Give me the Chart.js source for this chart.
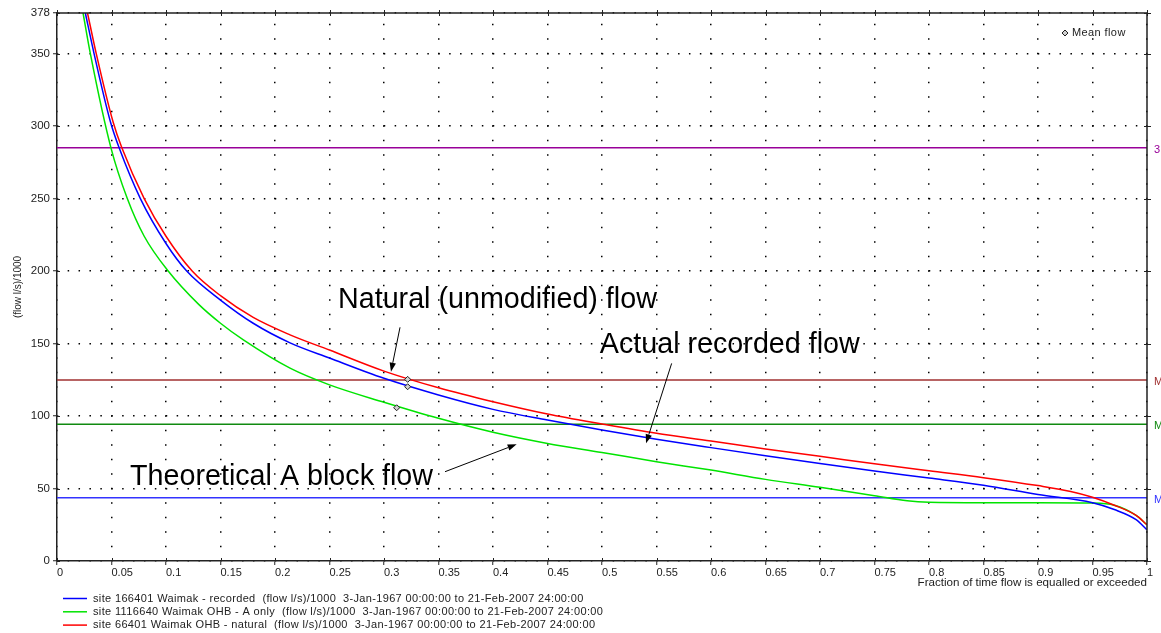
<!DOCTYPE html>
<html>
<head>
<meta charset="utf-8">
<script src="https://cdn.jsdelivr.net/npm/chart.js@4.4.0/dist/chart.umd.min.js"></script>
<style>
  html, body { margin: 0; padding: 0; background: #fff; }
</style>
</head>
<body>
<canvas id="myChart" width="1161" height="633"></canvas>
<script>
// flow duration curves: [fraction of time exceeded, (flow l/s)/1000]
var recorded = [
  [0.026, 378], [0.034, 350], [0.049, 303], [0.057, 285], [0.0765, 250], [0.10, 219],
  [0.119, 200], [0.15, 180], [0.18, 164], [0.2138, 150.5], [0.25, 140], [0.30, 126],
  [0.35, 114.5], [0.40, 104.6], [0.45, 97.2], [0.50, 90.3], [0.55, 84], [0.60, 78.2],
  [0.65, 72.6], [0.70, 67.2], [0.75, 62], [0.80, 57.2], [0.85, 52.2], [0.90, 45.8],
  [0.95, 40.2], [0.97, 35.5], [0.99, 28.5], [1.0, 21.5]
];
var aOnly = [
  [0.0239, 378], [0.0306, 350], [0.0495, 285], [0.0645, 250], [0.08, 224], [0.102, 200],
  [0.13, 177], [0.15, 164], [0.171, 152.5], [0.2138, 133], [0.25, 121.5], [0.30, 109.5],
  [0.35, 98.4], [0.40, 88.8], [0.45, 81.1], [0.50, 74.9], [0.55, 68.5], [0.60, 62.7],
  [0.65, 56.3], [0.70, 50.8], [0.75, 45], [0.78, 41.5], [0.80, 40.5], [0.85, 40.2],
  [0.90, 40.2], [0.95, 40], [0.97, 38.5], [0.99, 31.5], [1.0, 25]
];
var natural = [
  [0.028, 378], [0.036, 350], [0.0514, 303], [0.0595, 285], [0.080, 250], [0.10, 224],
  [0.124, 200], [0.15, 183], [0.18, 168], [0.2138, 156], [0.25, 145.5], [0.30, 131],
  [0.35, 119.5], [0.40, 109.9], [0.45, 101.4], [0.50, 94.5], [0.55, 88.1], [0.60, 82.8],
  [0.65, 77.2], [0.70, 72.2], [0.75, 67], [0.80, 62.2], [0.85, 57.5], [0.90, 52],
  [0.93, 48], [0.95, 44], [0.97, 38.5], [0.99, 31.5], [1.0, 25]
];
var meanFlow = [[0.3217, 120.2], [0.3116, 105.7], [0.3217, 125.3]];

// horizontal reference levels and their (clipped) right-hand labels
var refLevels = [285, 124.8, 94.3, 43.7];
var refLabels = ['3', 'M', 'M', 'M'];

var xTicks = [0, 0.05, 0.1, 0.15, 0.2, 0.25, 0.3, 0.35, 0.4, 0.45, 0.5,
              0.55, 0.6, 0.65, 0.7, 0.75, 0.8, 0.85, 0.9, 0.95, 1];
var yTicks = [0, 50, 100, 150, 200, 250, 300, 350, 378];

var seriesLabels = [
  'site 166401 Waimak - recorded  (flow l/s)/1000  3-Jan-1967 00:00:00 to 21-Feb-2007 24:00:00',
  'site 1116640 Waimak OHB - A only  (flow l/s)/1000  3-Jan-1967 00:00:00 to 21-Feb-2007 24:00:00',
  'site 66401 Waimak OHB - natural  (flow l/s)/1000  3-Jan-1967 00:00:00 to 21-Feb-2007 24:00:00'
];
var meanLabel = 'Mean flow';
var xTitle = 'Fraction of time flow is equalled or exceeded';
var yTitle = '(flow l/s)/1000';

// callouts, placed in data coordinates
var notes = [
  {text: 'Natural (unmodified) flow', at: [0.2578, 174.5], from: [0.3147, 161.2], to: [0.3064, 130.6]},
  {text: 'Actual recorded flow', at: [0.498, 143.2], from: [0.5639, 136.3], to: [0.5404, 81.2]},
  {text: 'Theoretical A block flow', at: [0.067, 52.4], from: [0.356, 61.6], to: [0.4217, 80.5]}
];

var FONT = '"Liberation Sans", Arial, sans-serif';
var AXIS = '#222';
var curveColors = ['#0000ff', '#00e400', '#ff0000'];
var refColors = ['#990099', '#a03030', '#108a10', '#3333ff'];

Chart.defaults.font.family = FONT;
Chart.defaults.color = '#222';

function pts(arr) {
  return arr.map(function (p) { return {x: p[0], y: p[1]}; });
}

var datasets = [];
var curves = [recorded, aOnly, natural];
var curveOrder = [2, 3, 1];
curves.forEach(function (c, i) {
  datasets.push({
    label: seriesLabels[i],
    data: pts(c),
    showLine: true,
    borderColor: curveColors[i],
    borderWidth: 1.5,
    pointRadius: 0,
    cubicInterpolationMode: 'monotone',
    order: curveOrder[i]
  });
});
refLevels.forEach(function (v, i) {
  datasets.push({
    label: refLabels[i],
    data: [{x: 0, y: v}, {x: 1, y: v}],
    showLine: true,
    borderColor: refColors[i],
    borderWidth: 1.5,
    pointRadius: 0,
    order: 5
  });
});
datasets.push({
  label: meanLabel,
  data: pts(meanFlow),
  pointStyle: 'rectRot',
  pointRadius: 3,
  borderColor: '#222',
  borderWidth: 1,
  backgroundColor: '#cfcfcf',
  order: 0
});

function arrow(c, x1, y1, x2, y2) {
  var ang = Math.atan2(y2 - y1, x2 - x1), len = 9, hw = 3.2;
  var bx = x2 - Math.cos(ang) * len, by = y2 - Math.sin(ang) * len;
  c.beginPath();
  c.moveTo(x1, y1);
  c.lineTo(bx, by);
  c.stroke();
  c.beginPath();
  c.moveTo(x2, y2);
  c.lineTo(bx + Math.sin(ang) * hw, by - Math.cos(ang) * hw);
  c.lineTo(bx - Math.sin(ang) * hw, by + Math.cos(ang) * hw);
  c.closePath();
  c.fill();
}

var decor = {
  id: 'decor',
  afterDraw: function (chart) {
    var c = chart.ctx, a = chart.chartArea, xs = chart.scales.x, ys = chart.scales.y;
    c.save();

    // top and right frame
    c.strokeStyle = AXIS;
    c.lineWidth = 1.5;
    c.beginPath();
    c.moveTo(a.left, a.top);
    c.lineTo(a.right, a.top);
    c.lineTo(a.right, a.bottom);
    c.stroke();

    // small ticks crossing the frame
    c.lineWidth = 1;
    c.beginPath();
    xTicks.forEach(function (v) {
      var px = Math.round(xs.getPixelForValue(v)) + 0.5;
      c.moveTo(px, a.bottom - 3); c.lineTo(px, a.bottom);
      c.moveTo(px, a.top - 3); c.lineTo(px, a.top + 3);
    });
    yTicks.forEach(function (v) {
      var py = Math.round(ys.getPixelForValue(v)) + 0.5;
      c.moveTo(a.left, py); c.lineTo(a.left + 3, py);
      c.moveTo(a.right - 3, py); c.lineTo(a.right + 4, py);
    });
    c.stroke();

    // labels of the reference levels, cut by the canvas edge
    c.font = '11px ' + FONT;
    c.textBaseline = 'middle';
    c.textAlign = 'left';
    refLevels.forEach(function (v, i) {
      c.fillStyle = refColors[i];
      c.fillText(refLabels[i], a.right + 7, ys.getPixelForValue(v) + 2);
    });

    // callouts
    c.fillStyle = '#000';
    c.strokeStyle = '#000';
    c.lineWidth = 1;
    c.font = '28.7px ' + FONT;
    c.textBaseline = 'alphabetic';
    notes.forEach(function (n) {
      c.fillText(n.text, xs.getPixelForValue(n.at[0]), ys.getPixelForValue(n.at[1]));
      arrow(c, xs.getPixelForValue(n.from[0]), ys.getPixelForValue(n.from[1]),
               xs.getPixelForValue(n.to[0]), ys.getPixelForValue(n.to[1]));
    });

    // mean flow key, top right
    var mx = a.right - 82, my = a.top + 20;
    c.beginPath();
    c.moveTo(mx, my - 3); c.lineTo(mx + 3, my); c.lineTo(mx, my + 3); c.lineTo(mx - 3, my);
    c.closePath();
    c.fillStyle = '#cfcfcf';
    c.fill();
    c.strokeStyle = '#222';
    c.stroke();
    c.fillStyle = '#222';
    c.font = '11px ' + FONT;
    c.letterSpacing = '0.4px';
    c.textBaseline = 'middle';
    c.fillText(meanLabel, mx + 7, my);

    // series key below the chart
    c.font = '11px ' + FONT;
    c.letterSpacing = '0.35px';
    seriesLabels.forEach(function (t, i) {
      var y = 598.5 + i * 13.3;
      c.strokeStyle = curveColors[i];
      c.lineWidth = 1.5;
      c.beginPath();
      c.moveTo(63, y); c.lineTo(87, y);
      c.stroke();
      c.fillStyle = '#222';
      c.fillText(t, 93, y);
    });
    c.restore();
  }
};

var ctx = document.getElementById('myChart').getContext('2d');
var myChart = new Chart(ctx, {
  type: 'scatter',
  data: { datasets: datasets },
  options: {
    responsive: false,
    animation: false,
    events: [],
    layout: { padding: { left: 0, right: 14, top: 13, bottom: 36 } },
    plugins: {
      legend: { display: false },
      tooltip: { enabled: false }
    },
    scales: {
      x: {
        type: 'linear',
        min: 0,
        max: 1,
        afterBuildTicks: function (s) { s.ticks = xTicks.map(function (v) { return {value: v}; }); },
        afterFit: function (s) { s.height = 36; },
        ticks: {
          align: 'start',
          autoSkip: false,
          maxRotation: 0,
          padding: 1,
          color: '#222',
          font: { size: 11 },
          callback: function (v) { return String(Math.round(v * 100) / 100); }
        },
        grid: { color: '#000', lineWidth: 1.5, tickLength: 4, tickColor: AXIS, tickWidth: 1 },
        border: { color: AXIS, width: 1.5, dash: [1.5, 13], dashOffset: 3.65 },
        title: {
          display: true,
          text: xTitle,
          align: 'end',
          color: '#222',
          font: { size: 11.6 },
          padding: { top: 0, bottom: 7 }
        }
      },
      y: {
        type: 'linear',
        min: 0,
        max: 378,
        afterBuildTicks: function (s) { s.ticks = yTicks.map(function (v) { return {value: v}; }); },
        afterFit: function (s) { s.width = 57; },
        ticks: {
          padding: 3,
          color: '#222',
          font: { size: 11.5 },
          callback: function (v) { return String(v); }
        },
        grid: { color: '#000', lineWidth: 1.5, tickLength: 4, tickColor: AXIS, tickWidth: 1 },
        border: { color: AXIS, width: 1.5, dash: [1.5, 9.4], dashOffset: 0.75 },
        title: {
          display: true,
          text: yTitle,
          color: '#222',
          font: { size: 10 },
          padding: { top: 12, bottom: 0 }
        }
      }
    }
  },
  plugins: [decor]
});
</script>
</body>
</html>
